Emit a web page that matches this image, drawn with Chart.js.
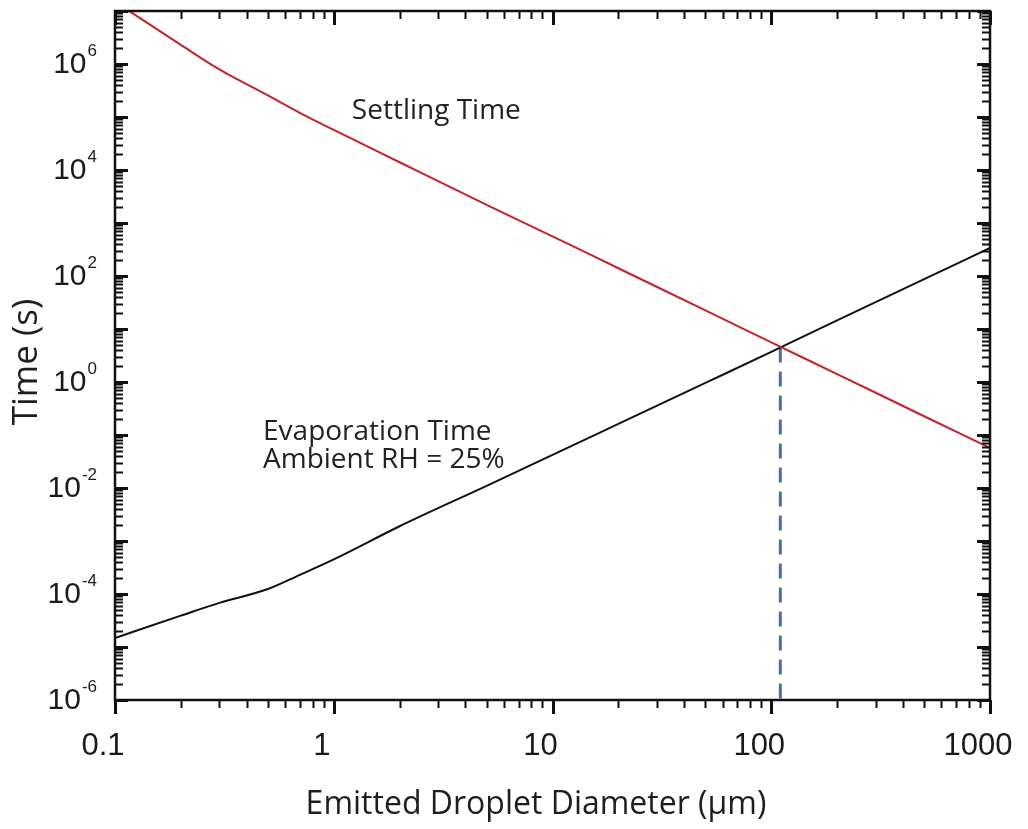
<!DOCTYPE html>
<html>
<head>
<meta charset="utf-8">
<script src="https://cdn.jsdelivr.net/npm/chart.js@4/dist/chart.umd.min.js"></script>
<style>
  html, body { margin: 0; padding: 0; background: #ffffff; }
  #wrap { width: 1028px; height: 829px; }
</style>
</head>
<body>
<div id="wrap"><canvas id="c" width="1028" height="829"></canvas></div>
<script>
// Droplet diameter (µm) and the two characteristic times (s)
const diameters      = [0.1, 0.2, 0.3, 0.5, 0.7, 1, 2, 5, 10, 20, 50, 100, 200, 500, 1000];
const settlingTime   = [1.5e7, 2.3e6, 7.9e5, 2.55e5, 1.2e5, 5.7e4, 1.4e4, 2.2e3, 560, 140, 22.5, 5.6, 1.41, 0.226, 0.057];
const evaporationTime= [1.48e-5, 3.9e-5, 6.8e-5, 1.24e-4, 2.3e-4, 4.5e-4, 1.9e-3, 1.1e-2, 0.042, 0.162, 0.96, 3.7, 14.5, 87, 339];

// Crossover where evaporation equals settling
const crossDiameter = [110, 110];
const crossTime     = [4.5, 1e-6];

// Axis decades and labels
const xDecades = [-1, 0, 1, 2, 3];
const xTickLabels = ['0.1', '1', '10', '100', '1000'];
const yDecades = [-6, -4, -2, 0, 2, 4, 6];
const yRange = [1e-6, 1e7];
const xRange = [0.1, 1000];

const annotations = [
  { text: 'Settling Time', x: 1.21, y: 9.1e4 },
  { text: 'Evaporation Time', x: 0.475, y: 0.0805 },
  { text: 'Ambient RH = 25%', x: 0.475, y: 0.0238 }
];

const pts = (xs, ys) => xs.map((x, i) => ({ x: x, y: ys[i] }));

const frame = {
  id: 'frame',
  afterDatasetsDraw(chart) {
    const ctx = chart.ctx;
    const a = chart.chartArea;
    const xs = chart.scales.x, ys = chart.scales.y;
    ctx.save();
    ctx.strokeStyle = '#111';
    ctx.lineCap = 'butt';

    // minor + major ticks along y (inward on both sides)
    const yLo = Math.round(Math.log10(yRange[0])), yHi = Math.round(Math.log10(yRange[1]));
    for (let e = yLo; e <= yHi; e++) {
      for (let m = 1; m <= 9; m++) {
        const v = m * Math.pow(10, e);
        if (v < yRange[0] * 0.999 || v > yRange[1] * 1.001) continue;
        const py = Math.round(ys.getPixelForValue(v)) + 0.5;
        const major = (m === 1);
        const len = major ? 13 : 8;
        ctx.lineWidth = major ? 3 : 2;
        ctx.beginPath();
        ctx.moveTo(a.left, py); ctx.lineTo(a.left + len, py);
        ctx.moveTo(a.right, py); ctx.lineTo(a.right - len, py);
        ctx.stroke();
      }
    }
    // ticks along x: inward at top, outward at bottom
    const xLo = Math.round(Math.log10(xRange[0])), xHi = Math.round(Math.log10(xRange[1]));
    for (let e = xLo; e <= xHi; e++) {
      for (let m = 1; m <= 9; m++) {
        const v = m * Math.pow(10, e);
        if (v < xRange[0] * 0.999 || v > xRange[1] * 1.001) continue;
        const px = Math.round(xs.getPixelForValue(v)) + 0.5;
        const major = (m === 1);
        const len = major ? 14 : 8;
        ctx.lineWidth = major ? 3 : 2;
        ctx.beginPath();
        ctx.moveTo(px, a.top); ctx.lineTo(px, a.top + len);
        ctx.moveTo(px, a.bottom); ctx.lineTo(px, a.bottom + len);
        ctx.stroke();
      }
    }

    // plot box
    ctx.lineWidth = 2.5;
    ctx.strokeRect(a.left, a.top, a.right - a.left, a.bottom - a.top);

    // y tick labels: 10 with raised exponent
    ctx.fillStyle = '#1a1a1a';
    ctx.textBaseline = 'middle';
    yDecades.forEach(e => {
      const py = ys.getPixelForValue(Math.pow(10, e));
      const base = '10', exp = String(e);
      ctx.font = '30px "Liberation Sans", Arial, sans-serif';
      const wb = ctx.measureText(base).width;
      ctx.font = '17px "Liberation Sans", Arial, sans-serif';
      const we = ctx.measureText(exp).width;
      const right = 97;
      const start = right - we - wb - 1;
      ctx.font = '30px "Liberation Sans", Arial, sans-serif';
      ctx.textAlign = 'left';
      ctx.fillText(base, start, py + 1);
      ctx.font = '17px "Liberation Sans", Arial, sans-serif';
      ctx.fillText(exp, start + wb + 1, py - 13);
    });

    // x tick labels
    ctx.font = '31px "Liberation Sans", Arial, sans-serif';
    ctx.textAlign = 'center';
    ctx.textBaseline = 'alphabetic';
    xDecades.forEach((e, i) => {
      const px = xs.getPixelForValue(Math.pow(10, e)) - 12;
      ctx.fillText(xTickLabels[i], px, 755);
    });

    // axis titles
    ctx.fillStyle = '#1e1e1e';
    ctx.font = '32px "Open Sans", "Noto Sans", sans-serif';
    ctx.textAlign = 'center';
    ctx.fillText('Emitted Droplet Diameter (µm)', 536, 814);
    ctx.save();
    ctx.translate(37, 362);
    ctx.rotate(-Math.PI / 2);
    ctx.font = '35px "Open Sans", "Noto Sans", sans-serif';
    ctx.fillText('Time (s)', 0, 0);
    ctx.restore();

    // curve annotations
    ctx.font = '28px "Open Sans", "Noto Sans", sans-serif';
    ctx.textAlign = 'left';
    ctx.fillStyle = '#222';
    annotations.forEach(t => {
      ctx.fillText(t.text, xs.getPixelForValue(t.x), ys.getPixelForValue(t.y));
    });
    ctx.restore();
  }
};

new Chart(document.getElementById('c'), {
  type: 'line',
  data: {
    datasets: [
      {
        label: 'Settling Time',
        data: pts(diameters, settlingTime),
        borderColor: 'rgb(198, 34, 46)',
        borderWidth: 2,
        pointRadius: 0,
        cubicInterpolationMode: 'monotone',
        fill: false
      },
      {
        label: 'Evaporation Time',
        data: pts(diameters, evaporationTime),
        borderColor: '#111111',
        borderWidth: 2,
        pointRadius: 0,
        cubicInterpolationMode: 'monotone',
        fill: false
      },
      {
        label: 'Crossover',
        data: pts(crossDiameter, crossTime),
        borderColor: '#4a6e9e',
        borderWidth: 3,
        borderDash: [15, 9],
        pointRadius: 0,
        fill: false
      }
    ]
  },
  options: {
    responsive: false,
    animation: false,
    layout: { padding: { left: 115, top: 11, right: 38, bottom: 129 } },
    plugins: { legend: { display: false }, tooltip: { enabled: false } },
    scales: {
      x: {
        type: 'logarithmic',
        min: xRange[0], max: xRange[1],
        grid: { display: false, drawTicks: false },
        border: { display: false },
        ticks: { display: false },
        title: { display: false }
      },
      y: {
        type: 'logarithmic',
        min: yRange[0], max: yRange[1],
        grid: { display: false, drawTicks: false },
        border: { display: false },
        ticks: { display: false },
        title: { display: false }
      }
    }
  },
  plugins: [frame]
});
</script>
</body>
</html>
